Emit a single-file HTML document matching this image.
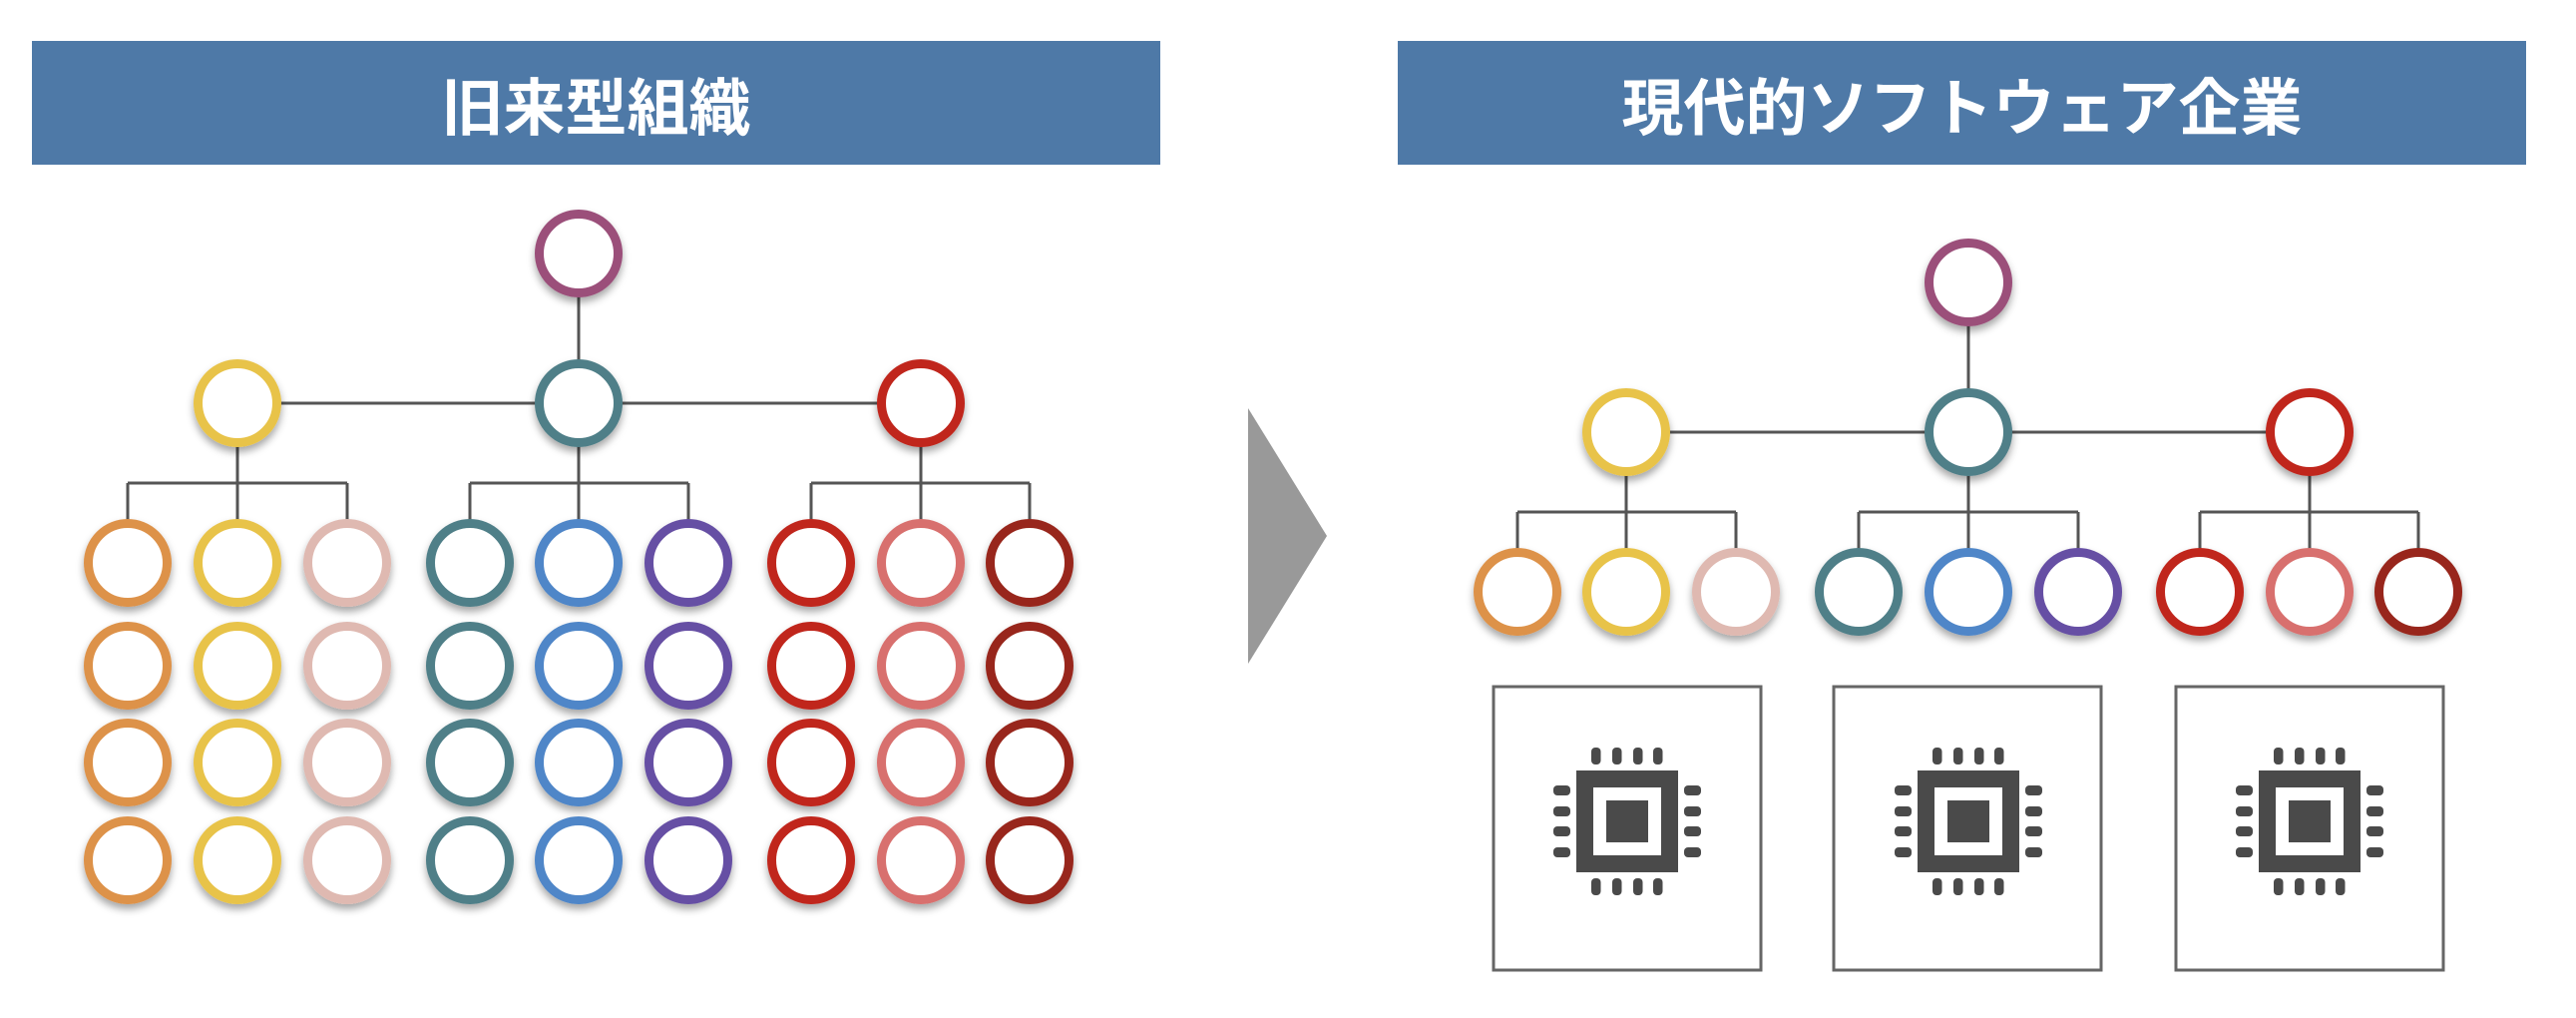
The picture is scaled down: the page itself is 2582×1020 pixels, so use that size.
<!DOCTYPE html>
<html><head><meta charset="utf-8"><style>
html,body{margin:0;padding:0;background:#fff;width:2582px;height:1020px;overflow:hidden}
.h{position:absolute;top:41px;height:124px;background:#4e79a7;color:#fff;display:flex;align-items:center;justify-content:center;font-family:"Liberation Sans","Noto Sans CJK JP",sans-serif;font-weight:bold;font-size:62px;letter-spacing:0}
svg{position:absolute;left:0;top:0}
</style></head><body>
<svg width="2582" height="1020" viewBox="0 0 2582 1020">
<defs>
<filter id="sh" x="-30%" y="-30%" width="160%" height="170%"><feDropShadow dx="0" dy="5" stdDeviation="4" flood-color="#000" flood-opacity="0.35"/></filter>
<g id="chip" fill="#4a4a4a">
<rect x="-51" y="-51" width="102" height="102"/>
<rect x="-34" y="-34" width="68" height="68" fill="#fff"/>
<rect x="-21" y="-21" width="42" height="42"/>
<rect x="-36" y="-74" width="9.5" height="17" rx="4"/><rect x="-15" y="-74" width="9.5" height="17" rx="4"/><rect x="6" y="-74" width="9.5" height="17" rx="4"/><rect x="26" y="-74" width="9.5" height="17" rx="4"/>
<rect x="-36" y="57" width="9.5" height="17" rx="4"/><rect x="-15" y="57" width="9.5" height="17" rx="4"/><rect x="6" y="57" width="9.5" height="17" rx="4"/><rect x="26" y="57" width="9.5" height="17" rx="4"/>
<rect x="-74" y="-36" width="17" height="10" rx="4"/><rect x="-74" y="-15" width="17" height="10" rx="4"/><rect x="-74" y="5" width="17" height="10" rx="4"/><rect x="-74" y="26" width="17" height="10" rx="4"/>
<rect x="57" y="-36" width="17" height="10" rx="4"/><rect x="57" y="-15" width="17" height="10" rx="4"/><rect x="57" y="5" width="17" height="10" rx="4"/><rect x="57" y="26" width="17" height="10" rx="4"/>
</g>
</defs>
<g stroke="#555" stroke-width="3" fill="none">
<path d="M580 254V404M238 404H923M238 404V564M580 404V564M923 404V564M128 484H348M128 484V564M348 484V564M471 484H690M471 484V564M690 484V564M813 484H1032M813 484V564M1032 484V564"/>
<path d="M1973 283V433M1630 433H2315M1630 433V593M1973 433V593M2315 433V593M1521 513H1740M1521 513V593M1740 513V593M1863 513H2083M1863 513V593M2083 513V593M2205 513H2424M2205 513V593M2424 513V593"/>
</g>
<polygon points="1251,409 1330,537 1251,665" fill="#999"/>
<g fill="#fff" stroke-width="9" filter="url(#sh)">
<circle cx="580" cy="254" r="39.5" stroke="#9b4f7a"/>
<circle cx="238" cy="404" r="39.5" stroke="#e8c34a"/>
<circle cx="580" cy="404" r="39.5" stroke="#4f7f88"/>
<circle cx="923" cy="404" r="39.5" stroke="#c0271f"/>
<g id="col">
</g>
<circle cx="128" cy="564" r="39.5" stroke="#dd924a"/><circle cx="128" cy="667" r="39.5" stroke="#dd924a"/><circle cx="128" cy="764" r="39.5" stroke="#dd924a"/><circle cx="128" cy="862" r="39.5" stroke="#dd924a"/>
<circle cx="238" cy="564" r="39.5" stroke="#e8c34a"/><circle cx="238" cy="667" r="39.5" stroke="#e8c34a"/><circle cx="238" cy="764" r="39.5" stroke="#e8c34a"/><circle cx="238" cy="862" r="39.5" stroke="#e8c34a"/>
<circle cx="348" cy="564" r="39.5" stroke="#dfb9b1"/><circle cx="348" cy="667" r="39.5" stroke="#dfb9b1"/><circle cx="348" cy="764" r="39.5" stroke="#dfb9b1"/><circle cx="348" cy="862" r="39.5" stroke="#dfb9b1"/>
<circle cx="471" cy="564" r="39.5" stroke="#4f7f88"/><circle cx="471" cy="667" r="39.5" stroke="#4f7f88"/><circle cx="471" cy="764" r="39.5" stroke="#4f7f88"/><circle cx="471" cy="862" r="39.5" stroke="#4f7f88"/>
<circle cx="580" cy="564" r="39.5" stroke="#4f86c8"/><circle cx="580" cy="667" r="39.5" stroke="#4f86c8"/><circle cx="580" cy="764" r="39.5" stroke="#4f86c8"/><circle cx="580" cy="862" r="39.5" stroke="#4f86c8"/>
<circle cx="690" cy="564" r="39.5" stroke="#6650a4"/><circle cx="690" cy="667" r="39.5" stroke="#6650a4"/><circle cx="690" cy="764" r="39.5" stroke="#6650a4"/><circle cx="690" cy="862" r="39.5" stroke="#6650a4"/>
<circle cx="813" cy="564" r="39.5" stroke="#c0271f"/><circle cx="813" cy="667" r="39.5" stroke="#c0271f"/><circle cx="813" cy="764" r="39.5" stroke="#c0271f"/><circle cx="813" cy="862" r="39.5" stroke="#c0271f"/>
<circle cx="923" cy="564" r="39.5" stroke="#d8706e"/><circle cx="923" cy="667" r="39.5" stroke="#d8706e"/><circle cx="923" cy="764" r="39.5" stroke="#d8706e"/><circle cx="923" cy="862" r="39.5" stroke="#d8706e"/>
<circle cx="1032" cy="564" r="39.5" stroke="#98281c"/><circle cx="1032" cy="667" r="39.5" stroke="#98281c"/><circle cx="1032" cy="764" r="39.5" stroke="#98281c"/><circle cx="1032" cy="862" r="39.5" stroke="#98281c"/>
<circle cx="1973" cy="283" r="39.5" stroke="#9b4f7a"/>
<circle cx="1630" cy="433" r="39.5" stroke="#e8c34a"/>
<circle cx="1973" cy="433" r="39.5" stroke="#4f7f88"/>
<circle cx="2315" cy="433" r="39.5" stroke="#c0271f"/>
<circle cx="1521" cy="593" r="39.5" stroke="#dd924a"/>
<circle cx="1630" cy="593" r="39.5" stroke="#e8c34a"/>
<circle cx="1740" cy="593" r="39.5" stroke="#dfb9b1"/>
<circle cx="1863" cy="593" r="39.5" stroke="#4f7f88"/>
<circle cx="1973" cy="593" r="39.5" stroke="#4f86c8"/>
<circle cx="2083" cy="593" r="39.5" stroke="#6650a4"/>
<circle cx="2205" cy="593" r="39.5" stroke="#c0271f"/>
<circle cx="2315" cy="593" r="39.5" stroke="#d8706e"/>
<circle cx="2424" cy="593" r="39.5" stroke="#98281c"/>
</g>
<g fill="none" stroke="#666" stroke-width="3">
<rect x="1497" y="688" width="268" height="284"/>
<rect x="1838" y="688" width="268" height="284"/>
<rect x="2181" y="688" width="268" height="284"/>
</g>
<use href="#chip" x="1631" y="823"/>
<use href="#chip" x="1973" y="823"/>
<use href="#chip" x="2315" y="823"/>
</svg>
<div class="h" style="left:32px;width:1131px">旧来型組織</div>
<div class="h" style="left:1401px;width:1131px">現代的ソフトウェア企業</div>
</body></html>
